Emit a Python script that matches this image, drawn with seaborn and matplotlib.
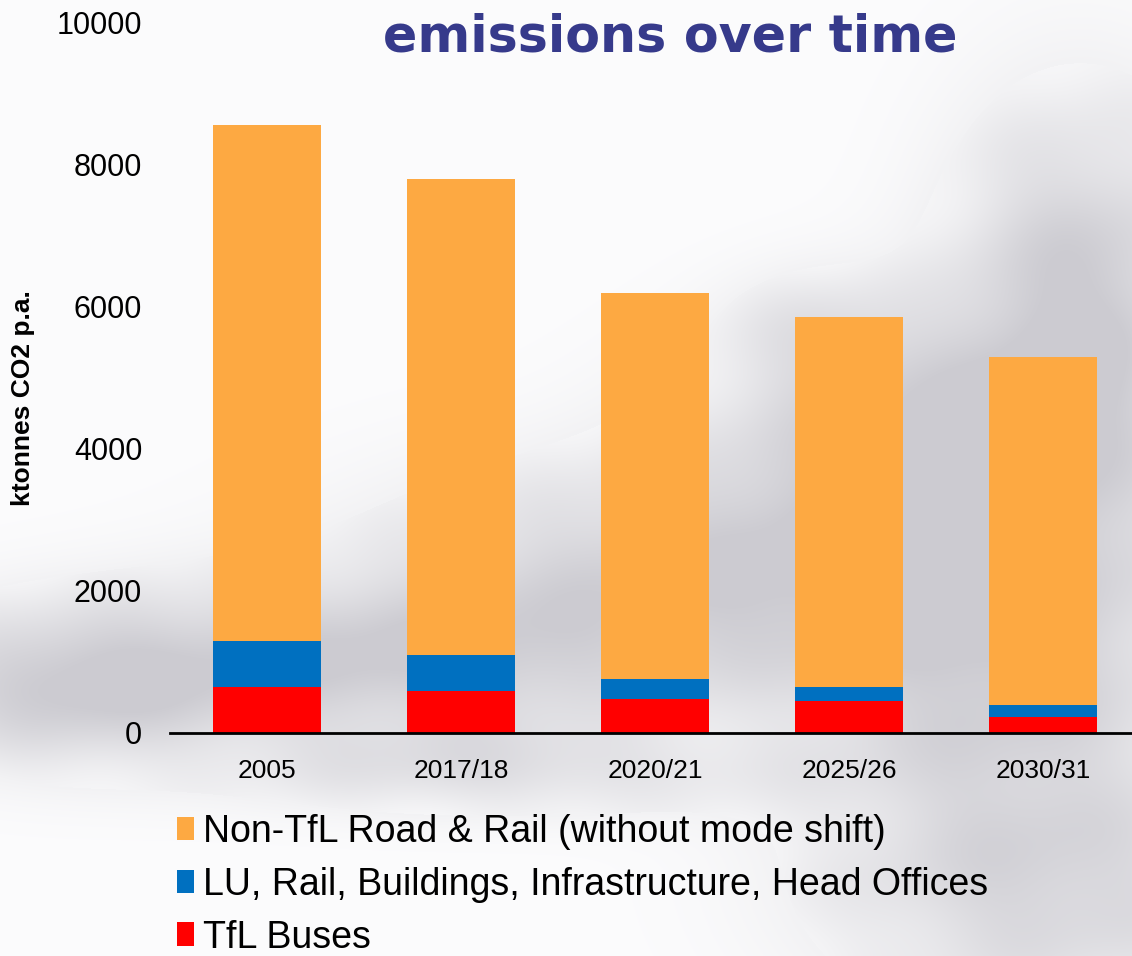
"""
TfL emissions over time - stacked bars
"""
import numpy as np
import pandas as pd
import matplotlib
matplotlib.use('Agg')
import matplotlib.pyplot as plt
from matplotlib.patches import Patch
import seaborn as sns

years = ['2005', '2017/18', '2020/21', '2025/26', '2030/31']
tfl_buses = [650, 590, 480, 450, 225]
lu_rail_buildings = [650, 510, 280, 200, 170]
non_tfl_road_rail = [7265, 6705, 5435, 5210, 4900]

series_names = ['Non-TfL Road & Rail (without mode shift)',
                'LU, Rail, Buildings, Infrastructure, Head Offices',
                'TfL Buses']
colors = ['#FDA942', '#0070C0', '#FF0000']
yticks = [0, 2000, 4000, 6000, 8000, 10000]

df = pd.DataFrame({'year': years, 'buses': tfl_buses,
                   'lu': lu_rail_buildings, 'road': non_tfl_road_rail})
df['lu_top'] = df['buses'] + df['lu']
df['total'] = df['lu_top'] + df['road']

sns.set_style('white')
plt.rcParams['font.family'] = ['Liberation Sans', 'DejaVu Sans']
plt.rcParams['text.color'] = 'black'
plt.rcParams['axes.labelcolor'] = 'black'
plt.rcParams['xtick.color'] = 'black'
plt.rcParams['ytick.color'] = 'black'

W, H = 1132, 956
fig = plt.figure(figsize=(W / 100, H / 100), dpi=100)

# cloudy grey backdrop (decoration only)
yy, xx = np.mgrid[0:H, 0:W].astype(float)
blobs = [(1080, 300, 130, 190, 0.95), (900, 430, 200, 110, 0.7),
         (700, 570, 300, 110, 0.8), (350, 660, 300, 80, 0.9),
         (60, 690, 160, 75, 0.75), (1000, 660, 200, 200, 0.85),
         (1060, 900, 220, 120, 0.6), (500, 770, 260, 45, 0.5),
         (820, 330, 90, 60, 0.35)]
cloud = np.zeros((H, W))
for cx, cy, sx, sy, a in blobs:
    cloud += a * np.exp(-((xx - cx) / sx) ** 2 - ((yy - cy) / sy) ** 2)
cloud += 0.08 * np.sin(xx / 37.0 + yy / 53.0) * np.cos(xx / 71.0 - yy / 29.0) * (cloud > 0.2)
cloud = np.clip(cloud, 0, 1)
lo = np.array([252, 252, 253]) / 255
hi = np.array([204, 203, 209]) / 255
img = lo + (hi - lo) * cloud[..., None]
bg = fig.add_axes([0, 0, 1, 1], zorder=-1)
bg.imshow(img, aspect='auto', extent=(0, W, H, 0))
bg.axis('off')

ax = fig.add_axes([170 / W, 223 / H, 970 / W, 710 / H])
ax.set_facecolor('none')
for col, c in zip(['total', 'lu_top', 'buses'], colors):
    sns.barplot(data=df, x='year', y=col, color=c, saturation=1,
                width=0.557, linewidth=0, ax=ax)

ax.set_ylim(0, 10000)
ax.set_xlim(-0.5, 4.5)
ax.set_yticks(yticks)
ax.set_yticklabels([str(t) for t in yticks], fontsize=22)
ax.tick_params(axis='y', length=0, pad=20)
ax.tick_params(axis='x', length=0, pad=19, labelsize=19)
ax.set_xlabel('')
ax.set_ylabel('ktonnes CO2 p.a.', fontsize=19, fontweight='bold')
ax.yaxis.set_label_coords(-0.139, 0.472)
for s in ['top', 'right', 'left']:
    ax.spines[s].set_visible(False)
ax.spines['bottom'].set_color('black')
ax.spines['bottom'].set_linewidth(2)

fig.text(383 / W, 1 - 52 / H, 'emissions over time', fontsize=36.5,
         fontweight='bold', color='#363A8B', family='DejaVu Sans',
         va='baseline', ha='left')

handles = [Patch(facecolor=c, edgecolor='none', label=n)
           for c, n in zip(colors, series_names)]
fig.legend(handles=handles, loc='upper left',
           bbox_to_anchor=(158 / W, 1 - 795 / H), frameon=False,
           fontsize=27, handlelength=0.45, handleheight=0.6,
           handletextpad=0.25, labelspacing=0.45, borderpad=0)

fig.savefig('out.png', dpi=100)
